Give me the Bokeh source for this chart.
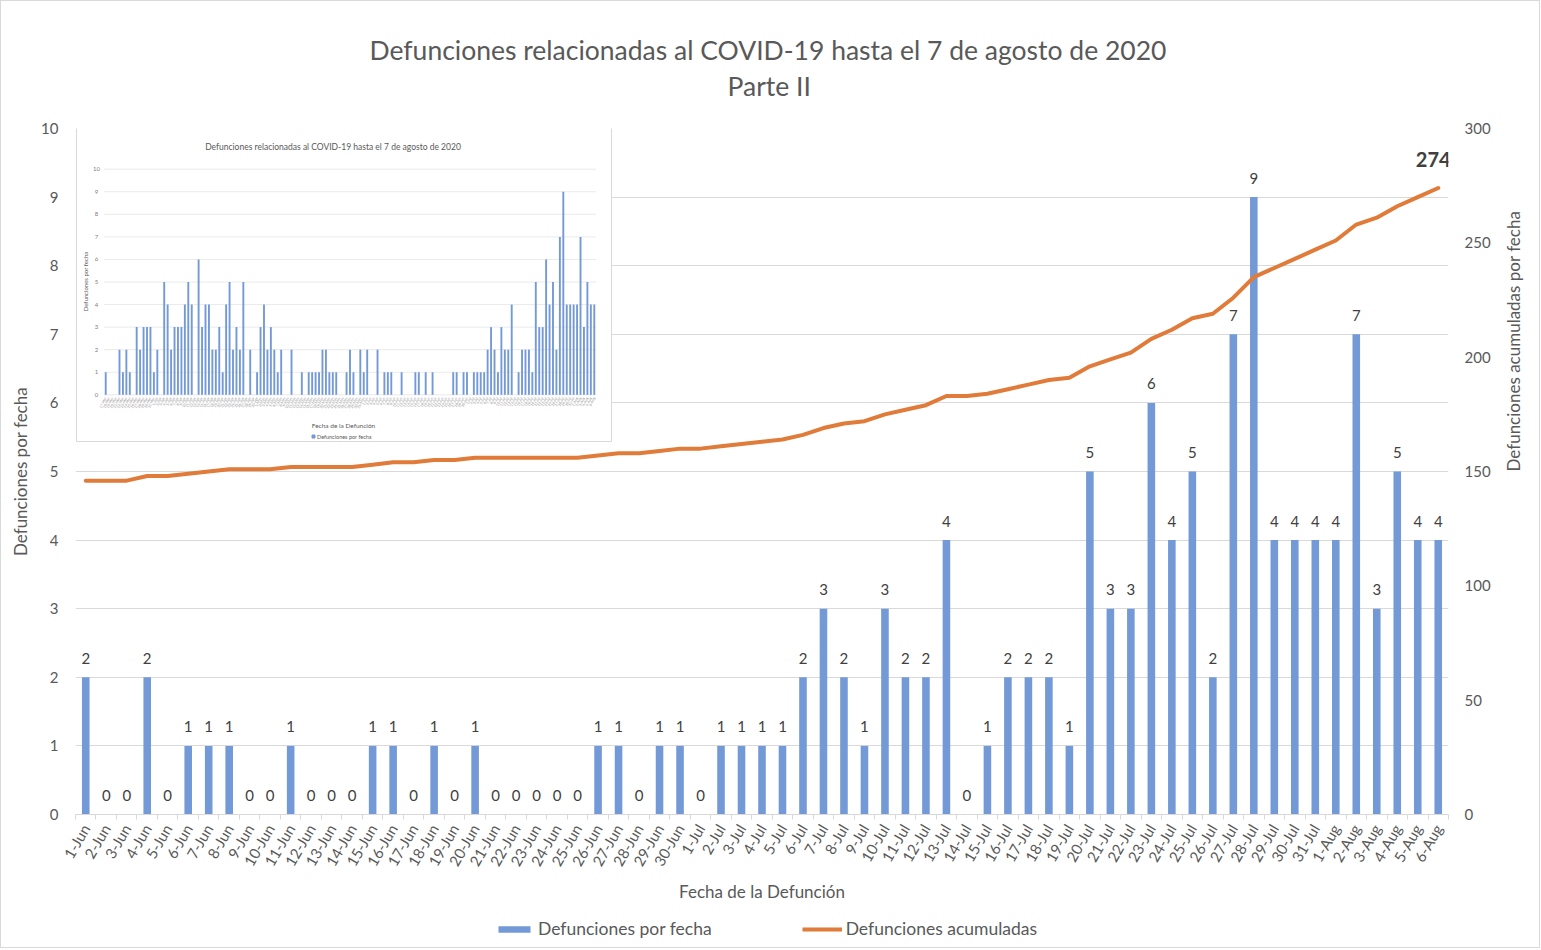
from math import pi
import pandas as pd
from bokeh.plotting import figure
from bokeh.layouts import column
from bokeh.models import (ColumnDataSource, Range1d, LinearAxis, FixedTicker,
                          Legend, LegendItem, Title)
from bokeh.core.properties import value
from bokeh.embed import file_html
from bokeh.resources import INLINE

FONT = "Lato"
GREY = "#595959"
DARK = "#404040"
BLUE = "#7399D6"
ORANGE = "#E07B39"
GRID = "#D9D9D9"

# ---------------- data ----------------
dates = [f"{d.day}-{d.strftime('%b')}" for d in pd.date_range("2020-06-01", "2020-08-06")]
daily = [2, 0, 0, 2, 0, 1, 1, 1, 0, 0, 1, 0, 0, 0, 1, 1, 0, 1, 0, 1,
         0, 0, 0, 0, 0, 1, 1, 0, 1, 1,
         0, 1, 1, 1, 1, 2, 3, 2, 1, 3, 2, 2, 4, 0, 1, 2, 2, 2, 1, 5,
         3, 3, 6, 4, 5, 2, 7, 9, 4, 4, 4,
         4, 7, 3, 5, 4, 4]
cumulative = [146, 146, 146, 148, 148, 149, 150, 151, 151, 151,
              152, 152, 152, 152, 153, 154, 154, 155, 155, 156,
              156, 156, 156, 156, 156, 157, 158, 158, 159, 160,
              160, 161, 162, 163, 164, 166, 169, 171, 172, 175,
              177, 179, 183, 183, 184, 186, 188, 190, 191, 196,
              199, 202, 208, 212, 217, 219, 226, 235, 239, 243, 247,
              251, 258, 261, 266, 270, 274]

# small pasted chart (17-Mar .. 6-Aug)
inset_dates = [f"{d.day}-{d.strftime('%b')}" for d in pd.date_range("2020-03-17", "2020-08-06")]
inset_before_june = [1, 0, 0, 0, 2, 1, 2, 1, 0, 3, 2, 3, 3, 3, 1, 2,
                     0, 5, 4, 2, 3, 3, 3, 4, 5, 4, 0,
                     6, 3, 4, 4, 2, 2, 3, 1, 4, 5, 2, 3, 2, 5, 0,
                     2, 0, 1, 3, 4, 2, 3, 2, 1, 2, 0, 0, 2, 0, 0,
                     1, 0, 1, 1, 1, 1, 2, 2, 1, 1, 1, 0, 0, 1, 2, 1, 0, 2, 1]
inset_daily = inset_before_june + daily

left_ticks = list(range(0, 11))
right_ticks = list(range(0, 301, 50))

TITLE = "Defunciones relacionadas al COVID-19 hasta el 7 de agosto de 2020"
SUBTITLE = "Parte II"
SERIES_BAR = "Defunciones por fecha"
SERIES_LINE = "Defunciones acumuladas"

# ---------------- geometry (page pixels) ----------------
W, H_MAIN, H_LEG = 1538, 910, 36
FRAME_L, FRAME_T, FRAME_W, FRAME_H = 74, 127, 1373, 686
FRAME_R = FRAME_L + FRAME_W
FRAME_B = FRAME_T + FRAME_H
IN_L, IN_R = 102.5, 594.5      # inset plot area, x
IN_Y0, IN_Y10 = 393.3, 167.7   # inset plot area, y of 0 and 10
n_in = len(inset_daily)
n = len(dates)
xpos = list(range(n))
xpos_in = list(range(n_in))


def ux(px):
    return -0.5 + (px - IN_L) * n_in / (IN_R - IN_L)


def vy(py):
    return (IN_Y0 - py) * 10.0 / (IN_Y0 - IN_Y10)


p = figure(x_range=Range1d(-0.5, n - 0.5), y_range=Range1d(0, 10),
           width=W, height=H_MAIN,
           min_border_left=FRAME_L, min_border_top=FRAME_T,
           min_border_right=W - FRAME_R, min_border_bottom=H_MAIN - FRAME_B,
           x_axis_type=None, title=TITLE,
           output_backend="svg", toolbar_location=None)
p.outline_line_color = None
p.background_fill_color = "white"
p.border_fill_color = "white"

p.extra_x_ranges = {"inx": Range1d(ux(FRAME_L), ux(FRAME_R))}
p.extra_y_ranges = {"cum": Range1d(0, 300),
                    "iny": Range1d(vy(FRAME_B), vy(FRAME_T))}

# titles: spacer (nearest the frame), subtitle, then the main title on top
p.title.align = "left"
p.title.offset = 294
p.title.text_font = FONT
p.title.text_font_size = "26.5px"
p.title.text_font_style = "normal"
p.title.text_color = GREY
p.title.standoff = 4
p.add_layout(Title(text=" ", text_font_size="1px", standoff=24), "above")
p.add_layout(Title(text=SUBTITLE, align="left", offset=652, text_font=FONT,
                   text_font_size="26.5px", text_font_style="normal", text_color=GREY,
                   standoff=0), "above")

# left axis
yax = p.yaxis[0]
yax.ticker = FixedTicker(ticks=left_ticks)
yax.axis_line_color = None
yax.major_tick_line_color = None
yax.major_tick_out = 0
yax.major_tick_in = 0
yax.minor_tick_line_color = None
yax.major_label_text_font = FONT
yax.major_label_text_font_size = "15px"
yax.major_label_text_color = GREY
yax.major_label_standoff = 17
yax.axis_label = "Defunciones por fecha"
yax.axis_label_text_font = FONT
yax.axis_label_text_font_size = "17px"
yax.axis_label_text_font_style = "normal"
yax.axis_label_text_color = GREY
yax.axis_label_standoff = 7
p.ygrid[0].ticker = FixedTicker(ticks=left_ticks)
p.ygrid[0].grid_line_color = GRID

# right axis
rax = LinearAxis(y_range_name="cum", ticker=FixedTicker(ticks=right_ticks),
                 axis_line_color=None, major_tick_line_color=None, minor_tick_line_color=None,
                 major_tick_out=0, major_tick_in=0,
                 major_label_text_font=FONT, major_label_text_font_size="15px",
                 major_label_text_color=GREY, major_label_standoff=16,
                 axis_label="Defunciones acumuladas por fecha", axis_label_text_font=FONT,
                 axis_label_text_font_size="17px", axis_label_text_font_style="normal",
                 axis_label_text_color=GREY, axis_label_standoff=20,
                 axis_label_orientation=pi / 2)
p.add_layout(rax, "right")

# bottom axis: labels at day centres, tick marks between days
xax = LinearAxis(ticker=FixedTicker(ticks=xpos,
                                    minor_ticks=[i - 0.5 for i in range(n + 1)]),
                 major_label_overrides={i: d for i, d in enumerate(dates)},
                 major_tick_out=0, major_tick_in=0, minor_tick_out=5, minor_tick_in=0,
                 minor_tick_line_color=GRID, axis_line_color=GRID,
                 major_label_orientation=pi / 3, major_label_standoff=6,
                 major_label_text_font=FONT, major_label_text_font_size="15px",
                 major_label_text_color=GREY,
                 axis_label="Fecha de la Defunción", axis_label_text_font=FONT,
                 axis_label_text_font_size="17px", axis_label_text_font_style="normal",
                 axis_label_text_color=GREY, axis_label_standoff=5)
p.add_layout(xax, "below")

# ---------------- inset (pasted earlier chart) ----------------
ir = dict(x_range_name="inx", y_range_name="iny")
p.quad(left=[ux(75)], right=[ux(610)], bottom=[vy(440)], top=[vy(126)],
       fill_color="white", line_color="#D9D9D9", line_width=1, **ir)
p.segment(x0=[-0.5] * len(left_ticks), x1=[n_in - 0.5] * len(left_ticks),
          y0=left_ticks, y1=left_ticks, line_color="#E4E4E4", line_width=0.8, **ir)
p.vbar(x=xpos_in, top=inset_daily, width=0.55, fill_color=BLUE, line_color=None, **ir)
p.text(x=[ux(95)] * len(left_ticks), y=left_ticks, text=[str(t) for t in left_ticks],
       text_align="center", text_baseline="middle", text_font=value(FONT),
       text_font_size="6px", text_color="#808080", **ir)
p.text(x=xpos_in, y=[vy(396)] * n_in, text=inset_dates, angle=65 * pi / 180,
       text_align="right", text_baseline="middle", text_font=value(FONT),
       text_font_size="3.5px", text_color="#8C8C8C", **ir)
p.text(x=[ux(331.5)], y=[vy(145.7)], text=[TITLE],
       text_align="center", text_baseline="middle", text_font=value(FONT),
       text_font_size="8.5px", text_color=GREY, **ir)
p.text(x=[ux(83.6)], y=[vy(280)], text=[SERIES_BAR], angle=pi / 2,
       text_align="center", text_baseline="middle", text_font=value(FONT),
       text_font_size="6px", text_color=GREY, **ir)
p.text(x=[ux(342)], y=[vy(424)], text=["Fecha de la Defunción"],
       text_align="center", text_baseline="middle", text_font=value(FONT),
       text_font_size="6.5px", text_color=GREY, **ir)
p.scatter(x=[ux(312)], y=[vy(435)], marker="square", size=3, color=BLUE, **ir)
p.text(x=[ux(315.5)], y=[vy(435)], text=[SERIES_BAR],
       text_align="left", text_baseline="middle", text_font=value(FONT),
       text_font_size="5.5px", text_color=GREY, **ir)

# ---------------- main series ----------------
src = ColumnDataSource(dict(x=xpos, date=dates, daily=daily, cum=cumulative,
                            label=[str(v) for v in daily]))
p.vbar(x="x", top="daily", width=0.37, source=src, fill_color=BLUE, line_color=None)
p.line(x="x", y="cum", source=src, y_range_name="cum",
       line_color=ORANGE, line_width=4, line_join="round", line_cap="round")
p.text(x="x", y="daily", text="label", source=src, text_align="center",
       text_baseline="middle", y_offset=-19, text_font=value(FONT),
       text_font_size="15px", text_color=DARK)
p.text(x=[xpos[-1]], y=[cumulative[-1]], text=[str(cumulative[-1])], y_range_name="cum",
       text_align="center", text_baseline="middle", x_offset=-5, y_offset=-28,
       text_font=value(FONT), text_font_size="20px", text_font_style="bold",
       text_color=DARK)

# ---------------- legend strip below the chart ----------------
lf = figure(width=W, height=H_LEG, x_range=Range1d(0, 1), y_range=Range1d(0, 1),
            x_axis_type=None, y_axis_type=None, min_border=0,
            output_backend="svg", toolbar_location=None)
lf.outline_line_color = None
lf.background_fill_color = "white"
lf.border_fill_color = "white"
# legend-only renderers: their data lie outside this strip's ranges
lb = lf.vbar(x=[-5], top=[-5], bottom=[-6], width=0.1, fill_color=BLUE, line_color=None)
ll = lf.line(x=[-6, -5], y=[-5, -5], line_color=ORANGE, line_width=4)
legend = Legend(items=[LegendItem(label=SERIES_BAR, renderers=[lb]),
                       LegendItem(label=SERIES_LINE, renderers=[ll])],
                orientation="horizontal", location=(419, 8), spacing=90,
                glyph_width=40, glyph_height=8, label_height=20, label_standoff=4,
                label_text_font=FONT, label_text_font_size="17.5px", label_text_color=GREY,
                border_line_color=None, background_fill_alpha=0, margin=0, padding=0)
lf.add_layout(legend)

root = column(p, lf, spacing=0, styles={"border": "1px solid #D9D9D9"})
open("out.html", "w").write(file_html(root, INLINE, title="Defunciones COVID-19"))
